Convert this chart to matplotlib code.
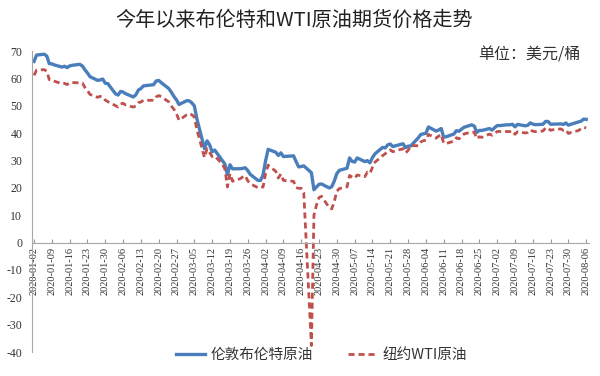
import matplotlib
matplotlib.use("Agg")
import matplotlib.pyplot as plt
import numpy as np
import datetime as dt

# ---- data ----
dates = [
 "2020-01-02","2020-01-03","2020-01-06","2020-01-07","2020-01-08","2020-01-09","2020-01-10",
 "2020-01-13","2020-01-14","2020-01-15","2020-01-16","2020-01-17","2020-01-20","2020-01-21",
 "2020-01-22","2020-01-23","2020-01-24","2020-01-27","2020-01-28","2020-01-29","2020-01-30",
 "2020-01-31","2020-02-03","2020-02-04","2020-02-05","2020-02-06","2020-02-07","2020-02-10",
 "2020-02-11","2020-02-12","2020-02-13","2020-02-14","2020-02-17","2020-02-18","2020-02-19",
 "2020-02-20","2020-02-21","2020-02-24","2020-02-25","2020-02-26","2020-02-27","2020-02-28",
 "2020-03-02","2020-03-03","2020-03-04","2020-03-05","2020-03-06","2020-03-09","2020-03-10",
 "2020-03-11","2020-03-12","2020-03-13","2020-03-16","2020-03-17","2020-03-18","2020-03-19",
 "2020-03-20","2020-03-23","2020-03-24","2020-03-25","2020-03-26","2020-03-27","2020-03-30",
 "2020-03-31","2020-04-01","2020-04-02","2020-04-03","2020-04-06","2020-04-07","2020-04-08",
 "2020-04-09","2020-04-13","2020-04-14","2020-04-15","2020-04-16","2020-04-17","2020-04-20",
 "2020-04-21","2020-04-22","2020-04-23","2020-04-24","2020-04-27","2020-04-28","2020-04-29",
 "2020-04-30","2020-05-01","2020-05-04","2020-05-05","2020-05-06","2020-05-07","2020-05-08",
 "2020-05-11","2020-05-12","2020-05-13","2020-05-14","2020-05-15","2020-05-18","2020-05-19",
 "2020-05-20","2020-05-21","2020-05-22","2020-05-26","2020-05-27","2020-05-28","2020-05-29",
 "2020-06-01","2020-06-02","2020-06-03","2020-06-04","2020-06-05","2020-06-08","2020-06-09",
 "2020-06-10","2020-06-11","2020-06-12","2020-06-15","2020-06-16","2020-06-17","2020-06-18",
 "2020-06-19","2020-06-22","2020-06-23","2020-06-24","2020-06-25","2020-06-26","2020-06-29",
 "2020-06-30","2020-07-01","2020-07-02","2020-07-03","2020-07-06","2020-07-07","2020-07-08",
 "2020-07-09","2020-07-10","2020-07-13","2020-07-14","2020-07-15","2020-07-16","2020-07-17",
 "2020-07-20","2020-07-21","2020-07-22","2020-07-23","2020-07-24","2020-07-27","2020-07-28",
 "2020-07-29","2020-07-30","2020-07-31","2020-08-03","2020-08-04","2020-08-05","2020-08-06",
]

brent = [
 66.25,68.60,68.91,68.27,65.44,65.37,64.98,
 64.20,64.49,64.00,64.62,64.85,65.20,64.59,
 63.21,62.04,60.69,59.32,59.51,59.81,58.29,
 58.16,54.45,53.96,55.28,55.08,54.47,53.27,
 54.01,55.79,56.34,57.32,57.67,57.75,59.12,
 59.31,58.50,56.30,54.95,53.43,52.18,50.52,
 51.90,51.86,51.13,49.99,45.27,34.36,37.22,
 35.79,33.22,33.85,30.05,28.73,24.88,28.47,
 26.98,27.03,27.15,27.39,26.34,24.93,22.76,
 22.74,24.74,29.94,34.11,33.05,31.87,32.84,
 31.48,31.74,29.60,27.69,27.82,28.08,25.57,
 19.33,20.37,21.33,21.44,19.99,20.46,22.54,
 25.27,26.44,27.20,30.97,29.72,29.46,30.97,
 29.63,29.98,29.19,31.13,32.50,34.81,34.65,
 35.75,36.06,35.13,36.17,34.74,35.29,35.33,
 38.32,39.57,39.79,39.99,42.30,40.80,41.18,
 41.73,38.55,38.73,39.72,40.96,40.71,41.51,
 42.19,43.08,42.63,40.31,41.05,41.02,41.71,
 41.15,42.03,42.80,42.80,43.10,43.08,43.29,
 42.35,43.24,42.72,42.90,43.79,43.37,43.14,
 43.28,44.32,44.29,43.31,43.34,43.41,43.22,
 43.75,42.94,43.30,44.15,44.43,45.17,45.09,
]

wti = [
 61.18,63.05,63.27,62.70,59.61,59.56,59.04,
 58.08,58.23,57.81,58.52,58.54,None,58.38,
 56.74,55.59,54.19,53.14,53.48,53.33,52.14,
 51.56,50.11,49.61,50.75,50.95,50.32,49.57,
 49.94,51.17,51.42,52.05,None,52.05,53.29,
 53.78,53.38,51.43,49.90,48.73,47.09,44.76,
 46.75,47.18,46.78,45.90,41.28,31.13,34.36,
 32.98,31.50,31.73,28.70,26.95,20.37,25.22,
 22.43,23.36,24.01,24.49,22.60,21.51,20.09,
 20.48,20.31,25.32,28.34,26.08,23.63,25.09,
 22.76,22.41,20.11,19.87,19.87,18.27,-37.63,
 10.01,13.78,16.50,16.94,12.78,12.34,15.06,
 18.84,19.78,20.39,24.56,23.99,23.55,24.74,
 24.14,25.78,25.29,27.56,29.43,31.82,32.50,
 33.49,33.92,33.25,34.35,32.81,33.71,35.49,
 35.44,36.81,37.29,37.41,39.55,38.19,38.94,
 39.60,36.34,36.26,37.12,38.38,37.96,38.84,
 39.75,40.46,40.37,38.01,38.72,38.49,39.70,
 39.27,39.82,40.65,None,40.63,40.62,40.90,
 39.62,40.55,40.10,40.29,41.20,40.75,40.59,
 40.81,41.96,41.90,41.07,41.29,41.60,41.04,
 41.27,39.92,40.27,41.01,41.70,42.19,41.95,
]

series_names = ["伦敦布伦特原油", "纽约WTI原油"]
title_text = "今年以来布伦特和WTI原油期货价格走势"
unit_text = "单位：美元/桶"
y_ticks = [70, 60, 50, 40, 30, 20, 10, 0, -10, -20, -30, -40]

# ---- plot ----
plt.rcParams['font.family'] = ['Noto Sans CJK SC', 'DejaVu Sans']
x = np.array([dt.datetime.strptime(d, "%Y-%m-%d") for d in dates])
b = np.array(brent, dtype=float)
w = np.array([np.nan if v is None else v for v in wti], dtype=float)
mw = ~np.isnan(w)

fig = plt.figure(figsize=(6.0, 3.76), dpi=100)
ax = fig.add_axes([0.0533, 0.0638, 0.928, 0.800])

blue = "#4A7EBB"
red = "#C0504D"
ax.plot(x, b, color=blue, lw=2.4, label=series_names[0], solid_joinstyle='round')
ax.plot(x[mw], w[mw], color=red, lw=2.0, ls=(0, (2.2, 1.4)), label=series_names[1])

ax.set_ylim(-40, 70)
ax.set_yticks(y_ticks)
ax.set_yticklabels([str(v) for v in y_ticks])
ax.tick_params(axis='y', length=0, pad=7, labelsize=8.5, labelcolor="#333333",
               labelfontfamily='Liberation Serif')

start = dt.datetime(2020, 1, 2)
end = dt.datetime(2020, 8, 6)
ticks = [start + dt.timedelta(days=7 * i) for i in range(32)]
ax.set_xticks(ticks)
ax.set_xticklabels([t.strftime("%Y-%m-%d") for t in ticks])
ax.set_xlim(start - dt.timedelta(days=0.8), end + dt.timedelta(days=1.0))
ax.tick_params(axis='x', direction='in', length=3, color="#999999", pad=3,
               labelrotation=90, labelsize=7.5, labelcolor="#333333",
               labelfontfamily='Liberation Serif')

ax.spines['bottom'].set_position(('data', 0))
for s in ['top', 'right']:
    ax.spines[s].set_visible(False)
ax.spines['bottom'].set_color("#A6A6A6")
ax.spines['left'].set_color("#A6A6A6")
ax.spines['bottom'].set_linewidth(0.8)
ax.spines['left'].set_linewidth(0.8)

fig.text(0.49, 0.945, title_text, ha='center', va='center', fontsize=14.5, color="#222222")
fig.text(0.967, 0.853, unit_text, ha='right', va='center', fontsize=11.5, color="#333333")

leg = fig.legend(loc='center', bbox_to_anchor=(0.536, 0.055), ncol=2, frameon=False,
                 fontsize=10.5, handlelength=2.0, columnspacing=2.4, handletextpad=0.4)
for t in leg.get_texts():
    t.set_color("#333333")

fig.savefig("out.png", dpi=100, facecolor='white')
